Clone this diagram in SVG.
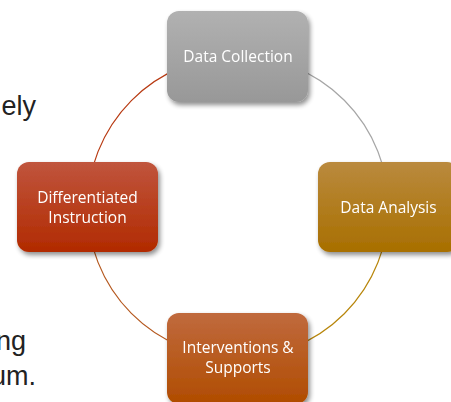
<svg xmlns="http://www.w3.org/2000/svg" width="451" height="402" viewBox="0 0 451 402">
<style>
.side{font-family:"Liberation Sans",Arial,sans-serif;font-size:27px;fill:#222;text-anchor:end}
.lbl{font-family:"Open Sans","Noto Sans",sans-serif;font-size:15.5px;fill:#ffffff;text-anchor:middle}
.arc{fill:none;stroke-width:1.2}
</style>
<defs>
<filter id="sh" x="-20%" y="-20%" width="150%" height="150%">
<feGaussianBlur in="SourceAlpha" stdDeviation="2.5"/>
<feOffset dx="2" dy="3" result="b"/>
<feComponentTransfer><feFuncA type="linear" slope="0.45"/></feComponentTransfer>
<feMerge><feMergeNode/><feMergeNode in="SourceGraphic"/></feMerge>
</filter>
<linearGradient id="gGray" x1="0" y1="0" x2="0" y2="1"><stop offset="0" stop-color="#b1b1b1"/><stop offset="1" stop-color="#989898"/></linearGradient>
<linearGradient id="gGold" x1="0" y1="0" x2="0" y2="1"><stop offset="0" stop-color="#ba8a3e"/><stop offset="1" stop-color="#a86f00"/></linearGradient>
<linearGradient id="gRed" x1="0" y1="0" x2="0" y2="1"><stop offset="0" stop-color="#c0553d"/><stop offset="1" stop-color="#b12a00"/></linearGradient>
<linearGradient id="gOrange" x1="0" y1="0" x2="0" y2="1"><stop offset="0" stop-color="#c06a3e"/><stop offset="1" stop-color="#b04c00"/></linearGradient>
</defs>
<rect width="451" height="402" fill="#ffffff"/>
<text class="side" x="36" y="115">ely</text>
<text class="side" x="26" y="350">ng</text>
<text class="side" x="36" y="385">um.</text>
<g id="connectors">
<path class="arc" stroke="#a6a6a6" d="M237.5 56 A151 151 0 0 1 388.5 207"/>
<path class="arc" stroke="#b8860b" d="M388.5 207 A151 151 0 0 1 237.5 358"/>
<path class="arc" stroke="#b5581e" d="M237.5 358 A151 151 0 0 1 87.5 207"/>
<path class="arc" stroke="#b83a12" d="M87.5 207 A151 151 0 0 1 237.5 56"/>
</g>
<g id="node-data-collection" filter="url(#sh)">
<rect x="167" y="11" width="141" height="91" rx="12" fill="url(#gGray)"/>
<text class="lbl" x="238" y="62">Data Collection</text>
</g>
<g id="node-data-analysis" filter="url(#sh)">
<rect x="318" y="162" width="141" height="90" rx="12" fill="url(#gGold)"/>
<text class="lbl" x="388.5" y="213">Data Analysis</text>
</g>
<g id="node-interventions" filter="url(#sh)">
<rect x="167" y="313" width="141" height="91" rx="12" fill="url(#gOrange)"/>
<text class="lbl" x="238" y="353">Interventions &amp;</text>
<text class="lbl" x="238" y="373">Supports</text>
</g>
<g id="node-differentiated" filter="url(#sh)">
<rect x="17" y="162" width="141" height="90" rx="12" fill="url(#gRed)"/>
<text class="lbl" x="87.5" y="203">Differentiated</text>
<text class="lbl" x="87.5" y="223">Instruction</text>
</g>
</svg>
